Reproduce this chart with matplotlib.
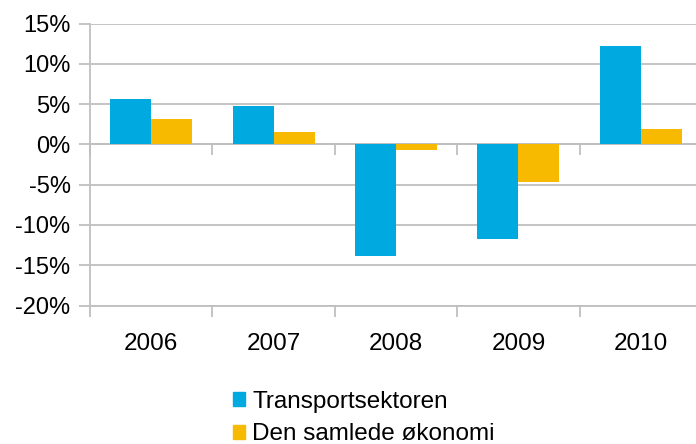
import numpy as np
import matplotlib
matplotlib.use('Agg')
import matplotlib.pyplot as plt
from matplotlib.patches import Patch
from matplotlib.ticker import FuncFormatter

plt.rcParams['font.family'] = ['Liberation Sans', 'DejaVu Sans']

years = ['2006', '2007', '2008', '2009', '2010']
transport = [5.6, 4.7, -13.9, -11.7, 12.2]
economy = [3.1, 1.5, -0.7, -4.7, 1.9]
series_names = ['Transportsektoren', 'Den samlede økonomi']

BLUE = '#00A9E0'
ORANGE = '#F8BA00'
GRID = '#BFBFBF'

fig = plt.figure(figsize = (6.96, 4.44), dpi = 100)
axis = fig.add_axes([90 / 696, 1 - 305.5 / 444, 612 / 696, 282 / 444])

x = np.arange(len(years))
width = 0.335
axis.bar(x - width / 2, transport, width, color = BLUE, zorder = 3)
axis.bar(x + width / 2, economy, width, color = ORANGE, zorder = 3)

axis.set_xlim(-0.5, len(years) - 0.5)
axis.set_ylim(-20, 15)
axis.set_yticks(np.arange(-20, 16, 5))
axis.yaxis.set_major_formatter(FuncFormatter(lambda v, p: f'{v:.0f}%'))
axis.grid(axis = 'y', color = GRID, linewidth = 1.3, zorder = 0)

# category boundaries get the ticks, labels sit in the middle
axis.set_xticks(np.arange(-0.5, len(years), 1.0))
axis.set_xticklabels([])
axis.set_xticks(x, minor = True)
axis.set_xticklabels(years, minor = True)
axis.tick_params(axis = 'x', which = 'major', length = 8, width = 1.3, color = GRID)
axis.tick_params(axis = 'x', which = 'minor', length = 0, pad = 20, labelsize = 17.5)
axis.tick_params(axis = 'y', length = 8, width = 1.3, color = GRID, pad = 6, labelsize = 17)

for side in ('top', 'right'):
    axis.spines[side].set_visible(False)
for side in ('left', 'bottom'):
    axis.spines[side].set_color(GRID)
    axis.spines[side].set_linewidth(1.3)

# horizontal axis crossing at zero, with its own tick marks hanging down
zeroAxis = axis.secondary_xaxis(20 / 35)
zeroAxis.set_xticks(np.arange(-0.5, len(years), 1.0))
zeroAxis.set_xticklabels([])
zeroAxis.tick_params(length = 8, width = 1.3, color = GRID, direction = 'in')
for s in zeroAxis.spines.values():
    s.set_color(GRID)
    s.set_linewidth(1.3)

handles = [Patch(color = BLUE), Patch(color = ORANGE)]
fig.legend(handles, series_names, loc = 'upper left', bbox_to_anchor = (233 / 696, 1 - 391 / 444),
           frameon = False, fontsize = 17.5, handlelength = 0.5, handleheight = 0.5,
           handletextpad = 0.3, labelspacing = 0.42, borderpad = 0, borderaxespad = 0)

fig.savefig('out.png', dpi = 100)
